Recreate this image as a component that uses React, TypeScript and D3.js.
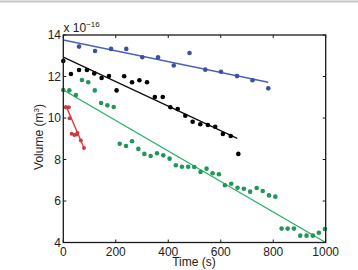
import { useEffect, useRef } from 'react';
import * as d3 from 'd3';

const WIDTH = 358;
const HEIGHT = 270;

// Time (s) and volume (x 1e-16 m^3) per track
const blueTimes = [60, 121, 182, 240, 301, 361, 421, 481, 541, 601, 662, 721, 781];
const blueVolumes = [13.44, 13.23, 13.33, 13.33, 12.93, 12.93, 12.53, 13.13, 12.33, 12.23, 12.02, 11.82, 11.43];

const blackTimes = [0, 29, 60, 90, 118, 146, 174, 203, 232, 262, 290, 319, 349, 379, 408, 436, 465, 493, 522, 551, 579, 608, 638, 667];
const blackVolumes = [12.75, 12.12, 12.31, 12.31, 12.15, 11.93, 12.02, 11.33, 12.01, 11.72, 11.82, 11.72, 11.01, 11.01, 10.52, 10.43, 10.11, 9.82, 9.7, 9.66, 9.58, 9.23, 9.13, 8.27];

const greenTimes = [0, 23, 48, 71, 95, 120, 144, 168, 192, 215, 239, 262, 286, 309, 333, 357, 381, 405, 429, 452, 476, 499, 523, 546, 569, 593, 616, 640, 664, 688, 712, 737, 760, 784, 808, 832, 855, 879, 903, 927, 951, 974, 997];
const greenVolumes = [11.35, 11.33, 11.11, 11.83, 11.72, 11.33, 10.72, 10.61, 10.53, 8.76, 8.65, 8.88, 8.51, 8.27, 8.17, 8.3, 8.2, 8.04, 7.72, 7.65, 7.65, 7.64, 7.4, 7.56, 7.34, 7.29, 6.76, 6.83, 6.64, 6.59, 6.45, 6.63, 6.48, 6.27, 6.21, 4.67, 4.67, 4.67, 4.33, 4.33, 4.33, 4.47, 4.65];

const redTimes = [9, 21, 24, 32, 42, 50, 54, 67, 79];
const redVolumes = [10.52, 10.52, 9.99, 9.24, 9.18, 9.21, 9.28, 8.91, 8.55];

// linear fits: [start, end] as [time, volume]
const blueFit: [number, number][] = [[0, 13.76], [781, 11.72]];
const blackFit: [number, number][] = [[0, 12.93], [663, 9.02]];
const greenFit: [number, number][] = [[0, 11.35], [1000, 4.0]];
const redFit: [number, number][] = [[9, 10.62], [79, 8.55]];

const xTicks = [0, 200, 400, 600, 800, 1000];
const yTicks = [4, 6, 8, 10, 12, 14];

export default function App() {
  const svgRef = useRef<SVGSVGElement>(null);

  useEffect(() => {
    if (!svgRef.current) return;
    const svg = d3.select(svgRef.current);
    svg.selectAll('*').remove();

    const left = 63.3, right = 325.7, top = 35, bottom = 242.5;
    const x = d3.scaleLinear().domain([0, 1000]).range([left, right]);
    const y = d3.scaleLinear().domain([4, 14]).range([bottom, top]);

    // faint frame line at the top of the figure
    svg.append('line')
      .attr('x1', 0).attr('x2', WIDTH)
      .attr('y1', 1.5).attr('y2', 1.5)
      .attr('stroke', '#c4c4c4')
      .attr('stroke-width', 2);

    const line = d3.line<[number, number]>().x(d => x(d[0])).y(d => y(d[1]));

    const series = [
      { t: greenTimes, v: greenVolumes, fit: greenFit, dot: '#22955a', stroke: '#2bb06a', r: 2.3 },
      { t: blackTimes, v: blackVolumes, fit: blackFit, dot: '#000000', stroke: '#111111', r: 2.3 },
      { t: blueTimes, v: blueVolumes, fit: blueFit, dot: '#3d4f9f', stroke: '#4a62b4', r: 2.3 },
      { t: redTimes, v: redVolumes, fit: redFit, dot: '#d03a3a', stroke: '#d84040', r: 2.0 },
    ];

    series.forEach(s => {
      svg.append('path')
        .attr('d', line(s.fit) || '')
        .attr('fill', 'none')
        .attr('stroke', s.stroke)
        .attr('stroke-width', 1.4);
      svg.append('g')
        .selectAll('circle')
        .data(s.t)
        .join('circle')
        .attr('cx', d => x(d))
        .attr('cy', (_, i) => y(s.v[i]))
        .attr('r', s.r)
        .attr('fill', s.dot);
    });

    // box
    svg.append('rect')
      .attr('x', left).attr('y', top)
      .attr('width', right - left).attr('height', bottom - top)
      .attr('fill', 'none')
      .attr('stroke', '#1a1a1a')
      .attr('stroke-width', 1.3);

    const tickLen = 3;
    const font = 'Liberation Sans, Arial, sans-serif';

    // x ticks (inward, bottom and top)
    xTicks.forEach(t => {
      svg.append('line').attr('x1', x(t)).attr('x2', x(t))
        .attr('y1', bottom).attr('y2', bottom - tickLen)
        .attr('stroke', '#1a1a1a').attr('stroke-width', 1);
      svg.append('line').attr('x1', x(t)).attr('x2', x(t))
        .attr('y1', top).attr('y2', top + tickLen)
        .attr('stroke', '#1a1a1a').attr('stroke-width', 1);
      svg.append('text')
        .attr('x', x(t)).attr('y', 255.5)
        .attr('text-anchor', 'middle')
        .attr('font-family', font).attr('font-size', 12)
        .attr('fill', '#222')
        .text(t);
    });

    yTicks.forEach(v => {
      svg.append('line').attr('x1', left).attr('x2', left + tickLen)
        .attr('y1', y(v)).attr('y2', y(v))
        .attr('stroke', '#1a1a1a').attr('stroke-width', 1);
      svg.append('line').attr('x1', right).attr('x2', right - tickLen)
        .attr('y1', y(v)).attr('y2', y(v))
        .attr('stroke', '#1a1a1a').attr('stroke-width', 1);
      svg.append('text')
        .attr('x', 61).attr('y', y(v) + 4.3)
        .attr('text-anchor', 'end')
        .attr('font-family', font).attr('font-size', 12)
        .attr('fill', '#222')
        .text(v);
    });

    // exponent
    const expo = svg.append('text')
      .attr('x', 63.5).attr('y', 32)
      .attr('font-family', font).attr('font-size', 12)
      .attr('fill', '#222');
    expo.append('tspan').text('x 10');
    expo.append('tspan').attr('dy', -5).attr('font-size', 8).text('\u221216');

    // axis labels
    svg.append('text')
      .attr('x', 194).attr('y', 266)
      .attr('text-anchor', 'middle')
      .attr('font-family', font).attr('font-size', 12)
      .attr('fill', '#222')
      .text('Time (s)');

    const yl = svg.append('text')
      .attr('transform', 'translate(43, 137) rotate(-90)')
      .attr('text-anchor', 'middle')
      .attr('font-family', font).attr('font-size', 12)
      .attr('fill', '#222');
    yl.append('tspan').text('Volume (m');
    yl.append('tspan').attr('dy', -4).attr('font-size', 8).text('3');
    yl.append('tspan').attr('dy', 4).text(')');
  }, []);

  return (
    <svg
      ref={svgRef}
      width={WIDTH}
      height={HEIGHT}
      viewBox={`0 0 ${WIDTH} ${HEIGHT}`}
      style={{ position: 'absolute', left: 0, top: 0, background: '#fff' }}
    />
  );
}
